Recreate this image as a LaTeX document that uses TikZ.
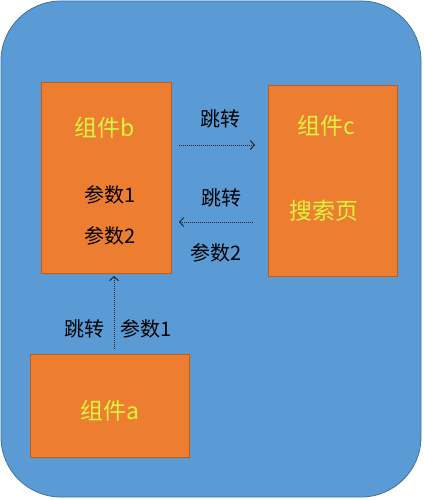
\documentclass[tikz,border=0pt]{standalone}
\usepackage{fontspec}
\setmainfont{Noto Sans CJK SC}
\usetikzlibrary{arrows.meta}

\definecolor{bgblue}{RGB}{91,155,213}
\definecolor{bgline}{RGB}{65,113,156}
\definecolor{boxorange}{RGB}{237,125,49}
\definecolor{boxline}{RGB}{197,90,17}
\definecolor{nameyellow}{RGB}{220,245,60}

\begin{document}
\begin{tikzpicture}[x=1pt, y=-1pt, thick,
    box/.style = {draw=boxline, fill=boxorange, line width=0.8pt, inner sep=0pt},
    compname/.style = {text=nameyellow, font=\fontsize{23}{23}\selectfont},
    lbl/.style = {text=black, font=\fontsize{20}{20}\selectfont},
    jump/.style = {-{Straight Barb[length=4pt,width=9pt]}, densely dotted, line width=1pt, draw=black!85}]
        \useasboundingbox (0,0) rectangle (423,500);
        \draw[fill=bgblue, draw=bgline, line width=0.8pt, rounded corners=60pt] (1,1) rectangle (421,497);

        \node[box, minimum width=130pt, minimum height=191pt] (comp_b) at (106,177.5) {};
        \node[box, minimum width=129pt, minimum height=191pt] (comp_c) at (332.5,180.5) {};
        \node[box, minimum width=159pt, minimum height=103pt] (comp_a) at (109.5,405.5) {};

        \node[compname] (name_b) at (105,128) {组件b};
        \node[lbl] (b_p1) at (110,195) {参数1};
        \node[lbl] (b_p2) at (110,236) {参数2};
        \node[compname] (name_c) at (326,126) {组件c};
        \node[compname] (search) at (324,211) {搜索页};
        \node[compname] (name_a) at (110,411) {组件a};

        \coordinate (b_out) at (179,145);
        \coordinate (c_in) at (255,145);
        \coordinate (c_out) at (253,222);
        \coordinate (b_in) at (179,222);
        \coordinate (a_out) at (114,349);
        \coordinate (b_up) at (114,276);

        \draw[jump] (b_out) -- node[lbl, pos=0.55, above=13pt] {跳转} (c_in);
        \draw[jump] (c_out) -- node[lbl, pos=0.42, above=11pt] {跳转} node[lbl, pos=0.5, below=18pt] {参数2} (b_in);
        \draw[jump] (a_out) -- node[lbl, pos=0.28, left=6pt] {跳转} node[lbl, pos=0.28, right=3pt] {参数1} (b_up);
    \end{tikzpicture}
\end{document}
